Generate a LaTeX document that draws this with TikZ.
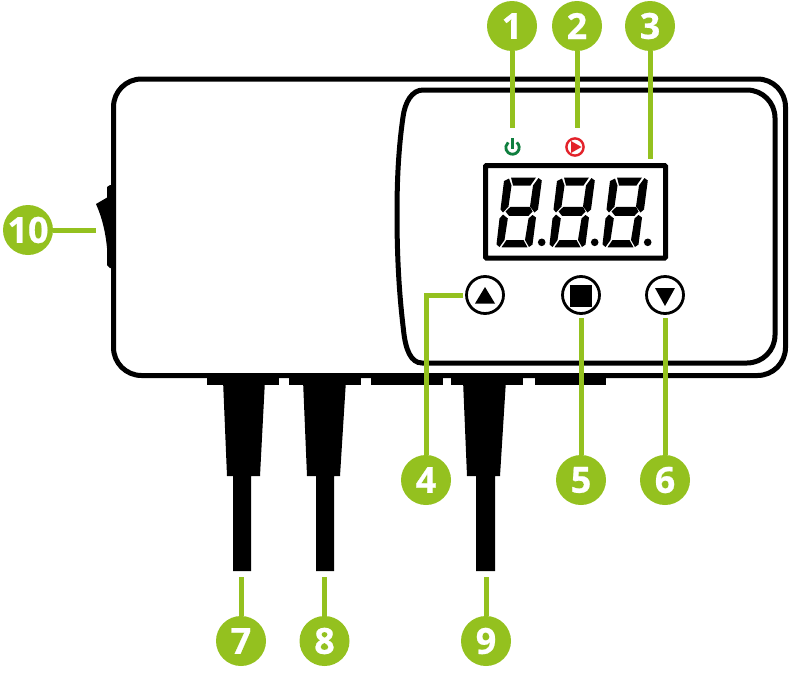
\documentclass[tikz,border=0pt]{standalone}
\usepackage{fontspec}
\setmainfont{Open Sans}[BoldFeatures={FakeBold=0.6}]
\definecolor{lime}{HTML}{94C11F}
\definecolor{powergreen}{HTML}{0F7F3F}
\definecolor{playred}{HTML}{E3222A}
\tikzset{
  badge/.style={circle,fill=lime,text=white,minimum size=50pt,inner sep=0pt,font=\fontsize{36}{36}\selectfont\bfseries},
  leader/.style={draw=lime,line width=5pt},
  keycap/.style={circle,draw=black,fill=white,line width=2.8pt,minimum size=37pt,inner sep=0pt},
  housing/.style={draw=black,line width=5pt,fill=white},
  segment/.style={fill=black,draw=none},
}
\newcommand{\segdigit}[1]{%
\begin{scope}[xshift=#1pt]
  \path[segment] (511,177.5) -- (536,177.5) -- (530.5,185.5) -- (513,185.5) -- cycle;
  \path[segment] (509,178.5) -- (511.5,185.5) -- (508.5,206.5) -- (503,212.5) -- (500.5,209.5) -- (504,181) -- cycle;
  \path[segment] (538.5,178) -- (541.8,180.5) -- (538,209.5) -- (534.5,212.5) -- (530,206.5) -- (533,185.5) -- cycle;
  \path[segment] (505.5,211.5) -- (510.5,206.8) -- (530,206.8) -- (532.5,211.5) -- (528.5,215.8) -- (509,215.8) -- cycle;
  \path[segment] (503,214.5) -- (507.8,218.5) -- (504.5,240) -- (499.5,247) -- (496.5,244.5) -- (499.5,218.5) -- cycle;
  \path[segment] (532.5,215) -- (536,217.5) -- (532.5,244.5) -- (529,247) -- (525,240) -- (528.5,218.5) -- cycle;
  \path[segment] (506.5,240) -- (523.5,240) -- (527.5,247.3) -- (501.5,247.3) -- cycle;
  \fill[black] (541.7,242.3) circle (3.8pt);
\end{scope}}
\begin{document}
\begin{tikzpicture}[x=1pt,y=-1pt]
\useasboundingbox (0,0) rectangle (792,672);
% switch
\fill[black] (107,187) -- (110,185) -- (114,185) -- (114,268) -- (110,268) -- (107,265) -- cycle;
\fill[black] (96,204) -- (108,197) -- (108,262) .. controls (107,240) and (104,222) .. (96,204) -- cycle;
% connector plates
\foreach \a/\b in {207/279,289/361,371/443,451/523,535/606}
  \fill[black] (\a,375) rectangle (\b,385);
% glands and cables
\foreach \a/\b/\c/\d/\e/\f in {223/265/227/260/233/251,303/346/307/340/316/334,463/506/467/500/476/495}{
  \fill[black] (\a,380) -- (\b,380) -- (\d,476) -- (\f,476) -- (\f,571) -- (\e,571) -- (\e,476) -- (\c,476) -- cycle;
}
% housing
\draw[housing,rounded corners=28pt] (113.5,79) rectangle (785.5,375.5);
% front panel
\draw[housing] (423,90) -- (747,90) .. controls (762.5,90) and (775,102.5) .. (775,118) -- (775,335) .. controls (775,350.5) and (762.5,363) .. (747,363) -- (422,363)
  .. controls (411,363) and (405.5,350) .. (403.5,330)
  .. controls (398,285) and (397,245) .. (397,213)
  .. controls (397,175) and (399,145) .. (403,117)
  .. controls (405,102) and (412,90) .. (423,90) -- cycle;
% display
\draw[black,line width=5pt,fill=white,rounded corners=1pt] (485.5,165.5) rectangle (665.5,258);
\segdigit{0}\segdigit{53}\segdigit{106}
% status icons
\draw[powergreen,line width=2.8pt] (516.8,142.4) arc[start angle=50,end angle=-230,radius=6.7pt];
\draw[powergreen,line width=2.8pt] (512.5,138) -- (512.5,149);
\draw[playred,line width=2.4pt] (575,147) circle (8.6pt);
\fill[playred] (571,141) -- (581.5,147) -- (571,153) -- cycle;
% keys
\node[keycap] (up) at (485,295) {};
\node[keycap] (stop) at (581,295) {};
\node[keycap] (down) at (665,295) {};
\fill[black] (475,303.5) -- (495,303.5) -- (485,287) -- cycle;
\fill[black] (570,285) rectangle (592,307);
\fill[black] (655,288) -- (675,288) -- (665,306) -- cycle;
% badges
\node[badge] (n1) at (512,26) {1};
\node[badge] (n2) at (577,26) {2};
\node[badge] (n3) at (650,26) {3};
\node[badge] (n4) at (426,480) {4};
\node[badge] (n5) at (581,480) {5};
\node[badge] (n6) at (665,480) {6};
\node[badge] (n7) at (241,641) {7};
\node[badge] (n8) at (324.5,641) {8};
\node[badge] (n9) at (486,641) {9};
\node[badge] (n10) at (28,230) {10};
% free ends
\coordinate (e1) at (512,128);
\coordinate (e2) at (577,128);
\coordinate (e3) at (650,159);
\coordinate (e4) at (463,295);
\coordinate (e5) at (581,318);
\coordinate (e6) at (665,318);
\coordinate (e7) at (241,577);
\coordinate (e8) at (324.5,577);
\coordinate (e9) at (486,577);
\coordinate (e10) at (96,230);
\draw[leader] (n1) -- (e1);
\draw[leader] (n2) -- (e2);
\draw[leader] (n3) -- (e3);
\draw[leader] (n4) -- (426,295) -- (e4);
\draw[leader] (n5) -- (e5);
\draw[leader] (n6) -- (e6);
\draw[leader] (n7) -- (e7);
\draw[leader] (n8) -- (e8);
\draw[leader] (n9) -- (e9);
\draw[leader] (n10) -- (e10);
\end{tikzpicture}
\end{document}
